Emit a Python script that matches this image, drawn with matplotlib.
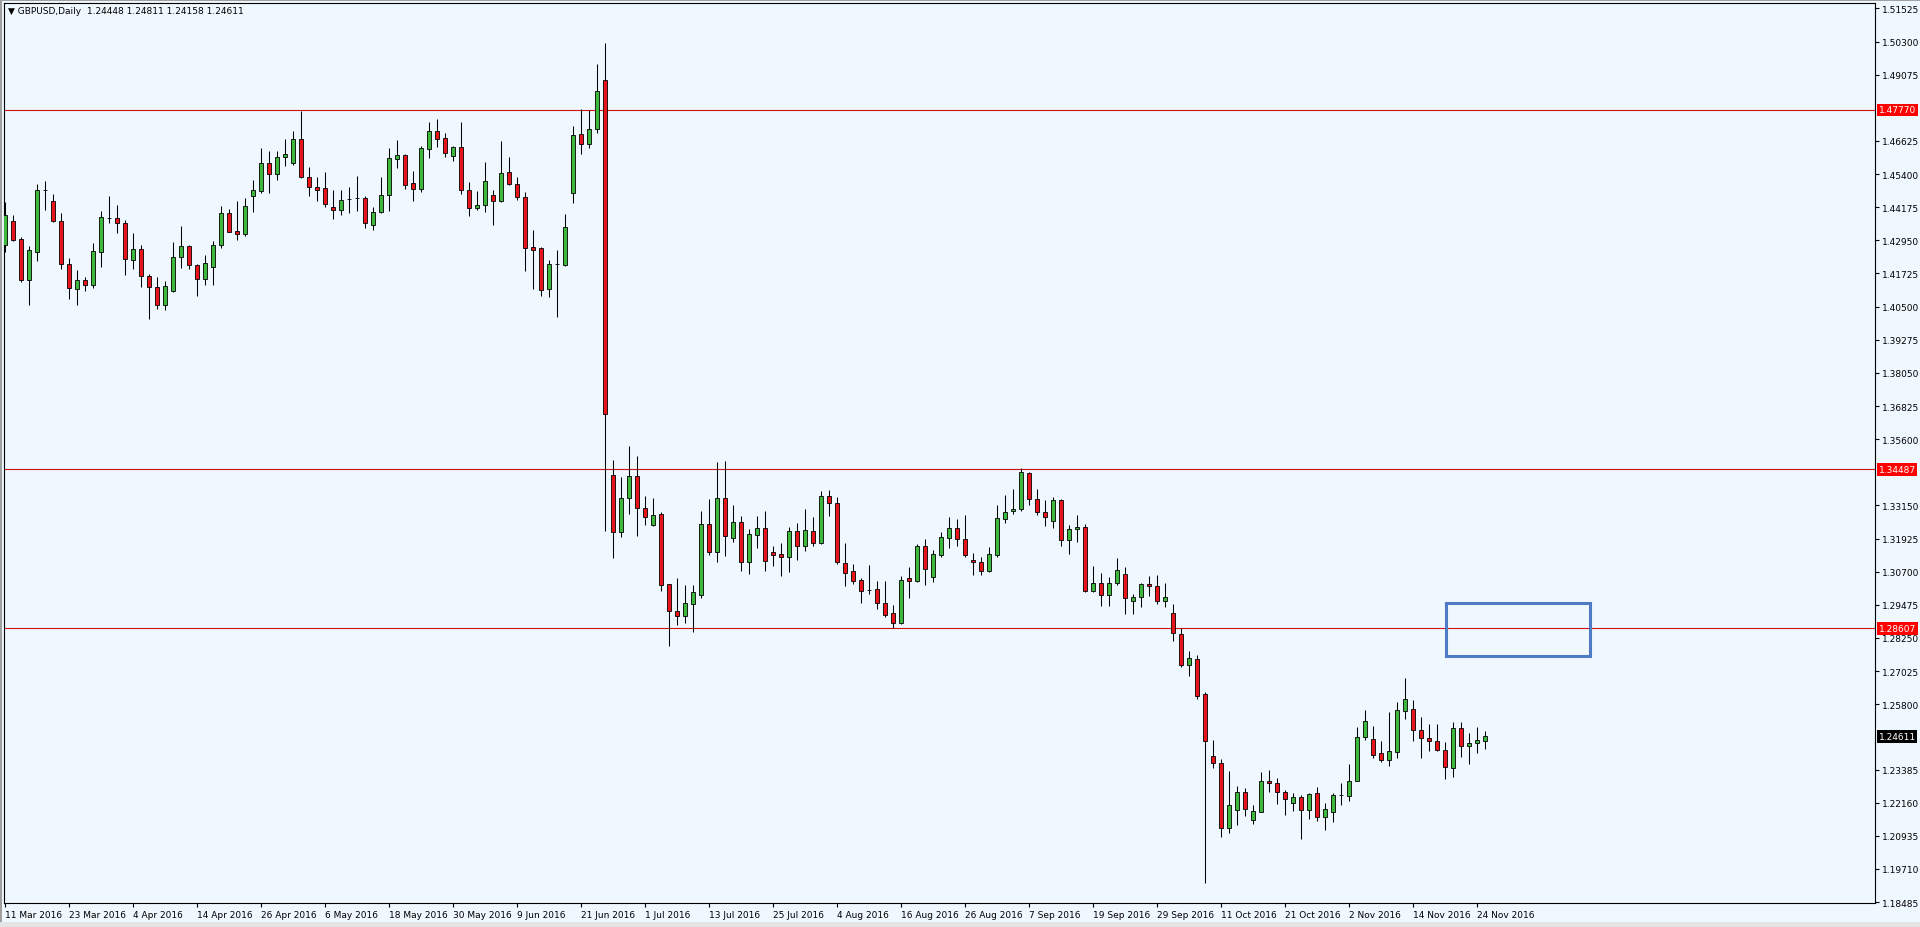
import matplotlib.pyplot as plt
from matplotlib.patches import Rectangle

# ── Daily GBPUSD candles, 11 Mar 2016 .. 25 Nov 2016 (one entry per trading day) ──
opens = [
    1.4277, 1.4365, 1.4299, 1.4150, 1.4253, 1.4481, 1.4439, 1.4365, 1.4206, 1.4114,
    1.4150, 1.4129, 1.4253, 1.4379, 1.4377, 1.4358, 1.4221, 1.4262, 1.4162, 1.4121,
    1.4057, 1.4109, 1.4235, 1.4273, 1.4203, 1.4153, 1.4195, 1.4277, 1.4395, 1.4328,
    1.4318, 1.4460, 1.4479, 1.4581, 1.4541, 1.4602, 1.4580, 1.4669, 1.4531, 1.4491,
    1.4488, 1.4418, 1.4408, 1.4449, 1.4451, 1.4451, 1.4353, 1.4399, 1.4463, 1.4596,
    1.4612, 1.4506, 1.4485, 1.4633, 1.4698, 1.4673, 1.4607, 1.4639, 1.4483, 1.4416,
    1.4424, 1.4461, 1.4441, 1.4547, 1.4505, 1.4457, 1.4272, 1.4266, 1.4116, 1.4206,
    1.4204, 1.4469, 1.4687, 1.4650, 1.4707, 1.4888, 1.3427, 1.3218, 1.3342, 1.3423,
    1.3304, 1.3244, 1.3282, 1.3023, 1.2926, 1.2905, 1.2951, 1.2984, 1.3245, 1.3144,
    1.3342, 1.3194, 1.3253, 1.3107, 1.3207, 1.3231, 1.3142, 1.3134, 1.3126, 1.3219,
    1.3164, 1.3219, 1.3175, 1.3351, 1.3323, 1.3101, 1.3071, 1.3039, 1.3003, 1.3005,
    1.2954, 1.2918, 1.2879, 1.3045, 1.3037, 1.3164, 1.3049, 1.3133, 1.3196, 1.3231,
    1.3191, 1.3112, 1.3105, 1.3074, 1.3133, 1.3265, 1.3293, 1.3302, 1.3435, 1.3337,
    1.3290, 1.3256, 1.3335, 1.3189, 1.3227, 1.3236, 1.2997, 1.3027, 1.2985, 1.3027,
    1.3062, 1.2963, 1.2975, 1.3025, 1.3017, 1.2963, 1.2917, 1.2840, 1.2726, 1.2747,
    1.2618, 1.2389, 1.2363, 1.2121, 1.2188, 1.2254, 1.2152, 1.2183, 1.2296, 1.2288,
    1.2254, 1.2214, 1.2239, 1.2188, 1.2251, 1.2162, 1.2180, 1.2245, 1.2242, 1.2297,
    1.2458, 1.2451, 1.2400, 1.2375, 1.2405, 1.2556, 1.2562, 1.2486, 1.2456, 1.2443,
    1.2410, 1.2346, 1.2491, 1.2424, 1.2435, 1.24448,
]
highs = [
    1.4437, 1.4390, 1.4306, 1.4273, 1.4503, 1.4515, 1.4466, 1.4396, 1.4230, 1.4184,
    1.4159, 1.4285, 1.4405, 1.4460, 1.4427, 1.4370, 1.4322, 1.4279, 1.4171, 1.4159,
    1.4143, 1.4289, 1.4349, 1.4279, 1.4209, 1.4242, 1.4294, 1.4421, 1.4411, 1.4439,
    1.4451, 1.4519, 1.4636, 1.4624, 1.4624, 1.4671, 1.4698, 1.4772, 1.4568, 1.4528,
    1.4547, 1.4483, 1.4482, 1.4491, 1.4532, 1.4458, 1.4417, 1.4528, 1.4637, 1.4666,
    1.4615, 1.4553, 1.4642, 1.4734, 1.4744, 1.4691, 1.4642, 1.4732, 1.4511, 1.4477,
    1.4585, 1.4483, 1.4664, 1.4602, 1.4528, 1.4475, 1.4334, 1.4270, 1.4223, 1.4260,
    1.4393, 1.4719, 1.4782, 1.4777, 1.4948, 1.5023, 1.3484, 1.3422, 1.3536, 1.3499,
    1.3351, 1.3343, 1.3292, 1.3025, 1.3047, 1.3022, 1.3021, 1.3296, 1.3339, 1.3477,
    1.3480, 1.3317, 1.3275, 1.3228, 1.3277, 1.3293, 1.3166, 1.3176, 1.3234, 1.3249,
    1.3302, 1.3271, 1.3368, 1.3372, 1.3345, 1.3175, 1.3099, 1.3047, 1.3095, 1.3037,
    1.3037, 1.2948, 1.3055, 1.3086, 1.3172, 1.3191, 1.3150, 1.3216, 1.3274, 1.3265,
    1.3280, 1.3139, 1.3123, 1.3160, 1.3318, 1.3354, 1.3376, 1.3452, 1.3440, 1.3376,
    1.3335, 1.3345, 1.3339, 1.3243, 1.3280, 1.3247, 1.3093, 1.3065, 1.3049, 1.3122,
    1.3089, 1.2988, 1.3028, 1.3056, 1.3059, 1.3028, 1.2951, 1.2861, 1.2776, 1.2762,
    1.2624, 1.2449, 1.2377, 1.2332, 1.2279, 1.2269, 1.2209, 1.2331, 1.2338, 1.2306,
    1.2263, 1.2252, 1.2244, 1.2251, 1.2275, 1.2215, 1.2251, 1.2288, 1.2359, 1.2497,
    1.2560, 1.2501, 1.2445, 1.2552, 1.2589, 1.2678, 1.2597, 1.2532, 1.2507, 1.2507,
    1.2439, 1.2516, 1.2516, 1.2474, 1.2495, 1.24811,
]
lows = [
    1.4252, 1.4291, 1.4140, 1.4055, 1.4220, 1.4408, 1.4363, 1.4190, 1.4079, 1.4057,
    1.4109, 1.4119, 1.4195, 1.4359, 1.4322, 1.4168, 1.4189, 1.4121, 1.4005, 1.4042,
    1.4039, 1.4104, 1.4193, 1.4189, 1.4089, 1.4131, 1.4129, 1.4267, 1.4326, 1.4297,
    1.4310, 1.4400, 1.4470, 1.4470, 1.4519, 1.4571, 1.4575, 1.4525, 1.4458, 1.4442,
    1.4418, 1.4374, 1.4389, 1.4395, 1.4405, 1.4341, 1.4334, 1.4397, 1.4405, 1.4562,
    1.4485, 1.4442, 1.4473, 1.4599, 1.4639, 1.4602, 1.4588, 1.4467, 1.4384, 1.4408,
    1.4399, 1.4352, 1.4438, 1.4498, 1.4446, 1.4181, 1.4116, 1.4091, 1.4087, 1.4013,
    1.4199, 1.4433, 1.4614, 1.4636, 1.4692, 1.3220, 1.3119, 1.3199, 1.3284, 1.3202,
    1.3242, 1.3239, 1.3000, 1.2794, 1.2873, 1.2879, 1.2849, 1.2972, 1.3133, 1.3105,
    1.3129, 1.3181, 1.3074, 1.3062, 1.3157, 1.3074, 1.3092, 1.3056, 1.3069, 1.3115,
    1.3148, 1.3164, 1.3172, 1.3277, 1.3099, 1.3019, 1.3025, 1.2954, 1.2988, 1.2934,
    1.2901, 1.2861, 1.2877, 1.2972, 1.3031, 1.3021, 1.3031, 1.3123, 1.3158, 1.3166,
    1.3123, 1.3059, 1.3059, 1.3068, 1.3123, 1.3250, 1.3284, 1.3296, 1.3317, 1.3280,
    1.3238, 1.3232, 1.3166, 1.3136, 1.3179, 1.2994, 1.2994, 1.2945, 1.2945, 1.3022,
    1.2914, 1.2914, 1.2938, 1.2982, 1.2951, 1.2938, 1.2815, 1.2719, 1.2686, 1.2600,
    1.1921, 1.2346, 1.2090, 1.2104, 1.2134, 1.2168, 1.2137, 1.2180, 1.2254, 1.2211,
    1.2170, 1.2184, 1.2082, 1.2156, 1.2150, 1.2115, 1.2143, 1.2207, 1.2224, 1.2295,
    1.2449, 1.2380, 1.2365, 1.2353, 1.2380, 1.2525, 1.2445, 1.2380, 1.2408, 1.2408,
    1.2304, 1.2310, 1.2384, 1.2359, 1.2400, 1.24158,
]
closes = [
    1.4387, 1.4297, 1.4150, 1.4258, 1.4480, 1.4481, 1.4365, 1.4207, 1.4118, 1.4150,
    1.4130, 1.4254, 1.4381, 1.4379, 1.4358, 1.4225, 1.4262, 1.4162, 1.4121, 1.4057,
    1.4125, 1.4232, 1.4273, 1.4203, 1.4153, 1.4211, 1.4278, 1.4395, 1.4327, 1.4320,
    1.4421, 1.4480, 1.4581, 1.4541, 1.4605, 1.4614, 1.4669, 1.4530, 1.4491, 1.4483,
    1.4430, 1.4409, 1.4446, 1.4449, 1.4451, 1.4360, 1.4401, 1.4464, 1.4599, 1.4612,
    1.4501, 1.4485, 1.4636, 1.4698, 1.4670, 1.4618, 1.4639, 1.4483, 1.4416, 1.4425,
    1.4516, 1.4442, 1.4543, 1.4504, 1.4457, 1.4267, 1.4260, 1.4112, 1.4206, 1.4206,
    1.4346, 1.4686, 1.4650, 1.4708, 1.4846, 1.3652, 1.3218, 1.3342, 1.3423, 1.3306,
    1.3271, 1.3281, 1.3022, 1.2926, 1.2905, 1.2953, 1.2994, 1.3245, 1.3142, 1.3342,
    1.3201, 1.3253, 1.3107, 1.3208, 1.3231, 1.3111, 1.3133, 1.3126, 1.3219, 1.3164,
    1.3224, 1.3175, 1.3351, 1.3324, 1.3105, 1.3064, 1.3037, 1.2999, 1.3003, 1.2953,
    1.2911, 1.2879, 1.3040, 1.3037, 1.3164, 1.3080, 1.3136, 1.3199, 1.3231, 1.3191,
    1.3130, 1.3105, 1.3074, 1.3134, 1.3269, 1.3290, 1.3302, 1.3438, 1.3337, 1.3290,
    1.3271, 1.3334, 1.3189, 1.3228, 1.3236, 1.3000, 1.3027, 1.2985, 1.3027, 1.3075,
    1.2972, 1.2975, 1.3025, 1.3016, 1.2963, 1.2975, 1.2842, 1.2725, 1.2750, 1.2612,
    1.2443, 1.2362, 1.2121, 1.2207, 1.2254, 1.2193, 1.2184, 1.2295, 1.2288, 1.2254,
    1.2228, 1.2239, 1.2188, 1.2247, 1.2162, 1.2193, 1.2244, 1.2245, 1.2295, 1.2458,
    1.2519, 1.2394, 1.2375, 1.2406, 1.2559, 1.2599, 1.2486, 1.2454, 1.2443, 1.2412,
    1.2349, 1.2491, 1.2424, 1.2435, 1.2448, 1.24611,
]

# date labels, one every 8 bars starting at the first bar
date_labels = [
    "11 Mar 2016", "23 Mar 2016", "4 Apr 2016", "14 Apr 2016", "26 Apr 2016",
    "6 May 2016", "18 May 2016", "30 May 2016", "9 Jun 2016", "21 Jun 2016",
    "1 Jul 2016", "13 Jul 2016", "25 Jul 2016", "4 Aug 2016", "16 Aug 2016",
    "26 Aug 2016", "7 Sep 2016", "19 Sep 2016", "29 Sep 2016", "11 Oct 2016",
    "21 Oct 2016", "2 Nov 2016", "14 Nov 2016", "24 Nov 2016",
]
label_step = 8

price_ticks = [
    1.51525, 1.50300, 1.49075, 1.46625, 1.45400, 1.44175, 1.42950, 1.41725,
    1.40500, 1.39275, 1.38050, 1.36825, 1.35600, 1.33150, 1.31925,
    1.30700, 1.29475, 1.28250, 1.27025, 1.25800, 1.23385, 1.22160, 1.20935,
    1.19710, 1.18485,
]

levels = [1.47770, 1.34487, 1.28607]          # horizontal support/resistance lines
last_price = 1.24611
box_bars = [180.1, 198.1]                      # highlighted zone (bar index range)
box_prices = [1.2760, 1.2954]

title = "\u25bc GBPUSD,Daily  1.24448 1.24811 1.24158 1.24611"

# ── Style ─────────────────────────────────────────────────────────────────────
BG = "#F0F8FF"
BULL = "#3CB83C"
BEAR = "#E8141A"
LEVEL = "#D01010"
FS = 6.5
plt.rcParams["font.family"] = ["DejaVu Sans"]

W, H = 1920, 928
fig = plt.figure(figsize=(W / 100, H / 100), dpi=100, facecolor=BG)
ax = fig.add_axes([3.5 / W, 24 / H, (1875 - 3.5) / W, 900 / H])
ax.set_facecolor(BG)

n = len(opens)
idx = list(range(n))

# wicks
ax.vlines(idx, lows, highs, color="black", linewidth=0.75, zorder=2)

# bodies
for i in idx:
    o, c = opens[i], closes[i]
    if c > o:
        col = BULL
    elif c < o:
        col = BEAR
    else:
        col = "black"
    ax.add_patch(Rectangle((i - 0.3, min(o, c)), 0.6, abs(c - o),
                           facecolor=col, edgecolor="black", linewidth=0.6, zorder=3))

# horizontal levels
for lv in levels:
    ax.axhline(lv, color=LEVEL, linewidth=0.8, zorder=1)

# highlighted zone
ax.add_patch(Rectangle((box_bars[0], box_prices[0]), box_bars[1] - box_bars[0],
                       box_prices[1] - box_prices[0], fill=False,
                       edgecolor="#4F7AC4", linewidth=2.2, zorder=4))

# limits: 8 px per bar, bar 0 centred 1.5 px inside the left edge
ax.set_xlim(-0.1875, 233.75)
ax.set_ylim(1.18453, 1.51725)

# x axis
xt = [k * label_step for k in range(len(date_labels))]
ax.set_xticks(xt)
ax.set_xticklabels(date_labels, fontsize=FS, ha="left")
ax.tick_params(axis="x", direction="out", length=3, width=0.8, pad=2)

# y axis on the right
ax.yaxis.tick_right()
ax.set_yticks(price_ticks)
ax.set_yticklabels([f"{v:.5f}" for v in price_ticks], fontsize=FS)
ax.tick_params(axis="y", direction="out", length=3, width=0.8, pad=2)

for sp in ax.spines.values():
    sp.set_color("black")
    sp.set_linewidth(0.8)

# price tags on the right axis
for lv in levels:
    ax.annotate(f"{lv:.5f}", xy=(1.0, lv), xycoords=("axes fraction", "data"),
                xytext=(2.5, 0), textcoords="offset points", ha="left", va="center",
                fontsize=FS, color="white", zorder=10, annotation_clip=False,
                bbox=dict(boxstyle="square,pad=0.2", fc="#FF0000", ec="none"))
ax.annotate(f"{last_price:.5f}", xy=(1.0, last_price), xycoords=("axes fraction", "data"),
            xytext=(2.5, 0), textcoords="offset points", ha="left", va="center",
            fontsize=FS, color="white", zorder=10, annotation_clip=False,
            bbox=dict(boxstyle="square,pad=0.2", fc="black", ec="none"))

# chart caption
fig.text(8 / W, 1 - 12 / H, title, fontsize=FS, ha="left", va="center", color="black")

# window frame
fig.patches.append(Rectangle((0, 1 - 2 / H), 1, 2 / H, transform=fig.transFigure,
                             facecolor="#A0A0A0", edgecolor="none"))
fig.patches.append(Rectangle((0, 0), 2 / W, 1, transform=fig.transFigure,
                             facecolor="#A0A0A0", edgecolor="none"))
fig.patches.append(Rectangle((0, 0), 1, 5 / H, transform=fig.transFigure,
                             facecolor="#E4E4E4", edgecolor="none"))

fig.savefig("out.png", dpi=100, facecolor=BG)
